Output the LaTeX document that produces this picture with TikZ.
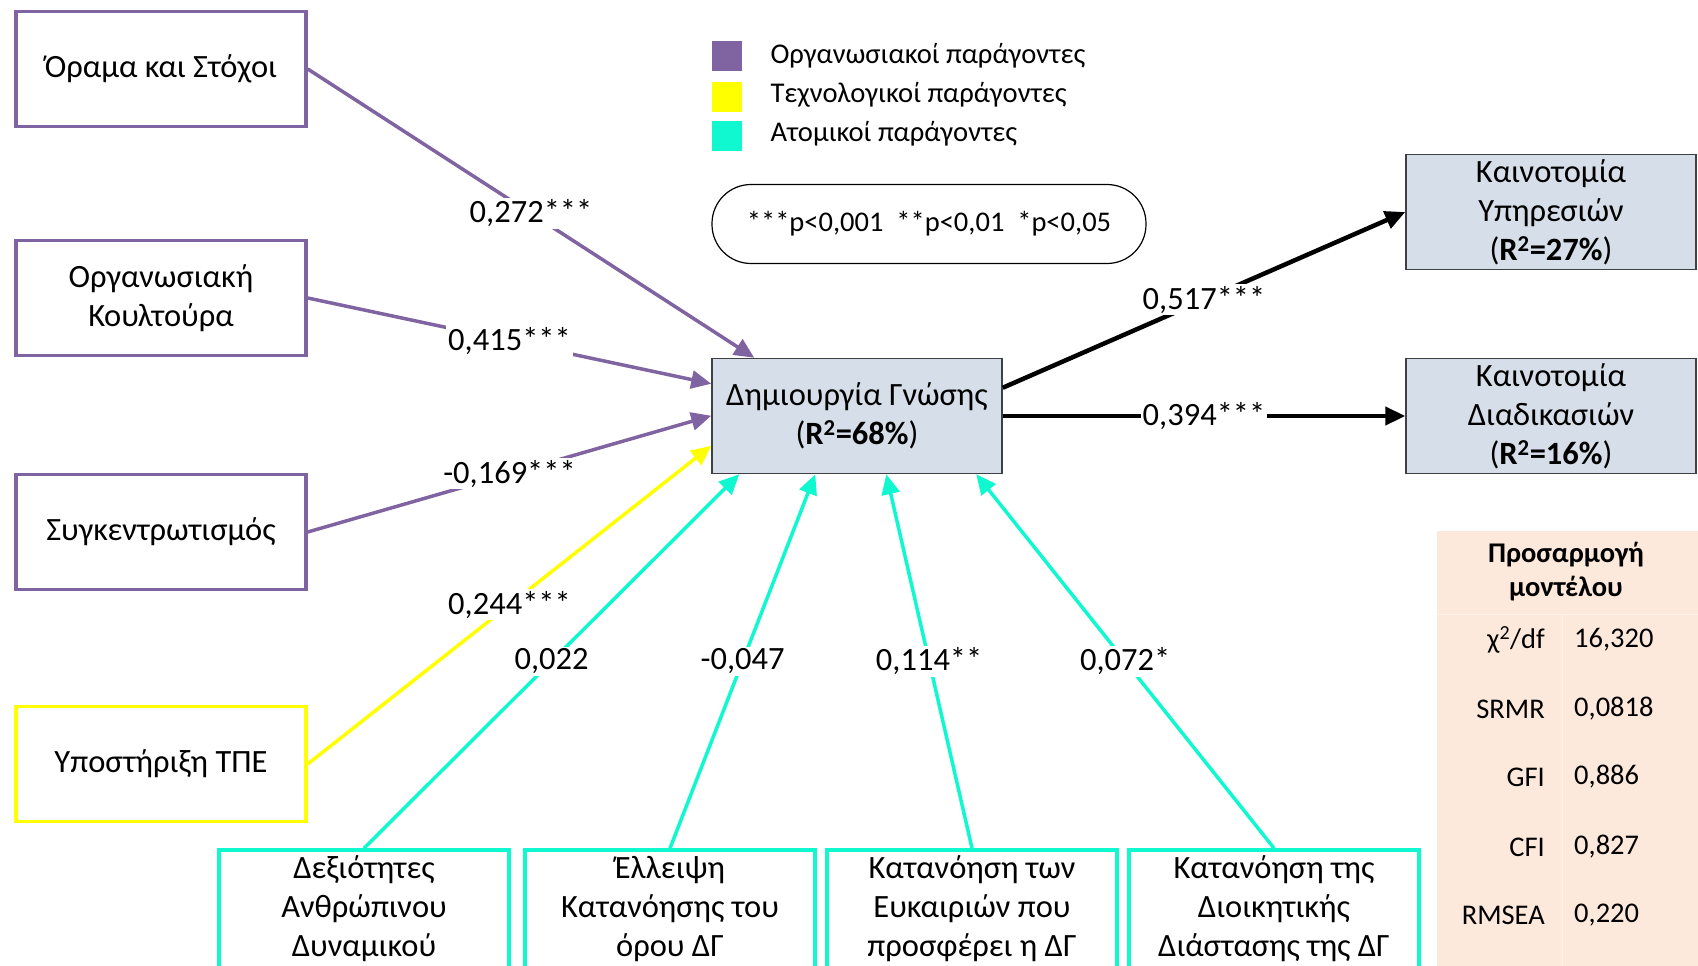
\documentclass[tikz,border=0pt]{standalone}
\usepackage{fontspec}
\setmainfont{Carlito}
\usepackage{xcolor}
\usetikzlibrary{arrows.meta,positioning}
\definecolor{orgpurple}{HTML}{8064A2}
\definecolor{techyellow}{HTML}{FFFF00}
\definecolor{indcyan}{HTML}{10F8D0}
\definecolor{kcfill}{HTML}{D6DEE9}
\definecolor{fitfill}{HTML}{FDE9DB}
\newcommand{\rsq}[1]{(\textbf{R\textsuperscript{2}=#1\%})}

\begin{document}
\begin{tikzpicture}[
    x=1pt, y=-1pt,
    font=\fontsize{32.5}{39}\selectfont,
    factor/.style={draw=#1, line width=3.5pt, minimum width=290pt, minimum height=115pt, align=center, inner sep=0},
    outcome/.style={draw=black!75, fill=kcfill, line width=1.5pt, minimum width=290pt, minimum height=115pt, align=center, inner sep=0},
    link/.style={draw=#1, line width=3.5pt, -{Triangle[length=20pt,width=18pt]}},
    coef/.style={midway, fill=white, inner sep=2pt},
    legbox/.style={fill=#1, minimum size=30pt, inner sep=0},
    legtext/.style={anchor=west, font=\fontsize{28.6}{34}\selectfont},
    fittext/.style={font=\fontsize{28.5}{34}\selectfont, inner sep=0}]
\useasboundingbox (0,0) rectangle (1698,966);

% left factors
\node (vis) [factor=orgpurple] at (161,69) {Όραμα και Στόχοι};
\node (cul) [factor=orgpurple] at (161,298) {Οργανωσιακή\\Κουλτούρα};
\node (cen) [factor=orgpurple] at (161,532) {Συγκεντρωτισμός};
\node (ict) [factor=techyellow] at (161,764) {Υποστήριξη ΤΠΕ};

% bottom factors
\node (skl) [factor=indcyan, minimum height=118pt] at (364,909) {Δεξιότητες\\Ανθρώπινου\\Δυναμικού};
\node (lck) [factor=indcyan, minimum height=118pt] at (670,909) {Έλλειψη\\Κατανόησης του\\όρου ΔΓ};
\node (opp) [factor=indcyan, minimum height=118pt] at (972,909) {Κατανόηση των\\Ευκαιριών που\\προσφέρει η ΔΓ};
\node (adm) [factor=indcyan, minimum height=118pt] at (1274,909) {Κατανόηση της\\Διοικητικής\\Διάστασης της ΔΓ};

% centre and outcomes
\node (kc) [outcome] at (857,416) {Δημιουργία Γνώσης\\\rsq{68}};
\node (srv) [outcome] at (1551,212) {Καινοτομία\\Υπηρεσιών\\\rsq{27}};
\node (prc) [outcome] at (1551,416) {Καινοτομία\\Διαδικασιών\\\rsq{16}};

% legend
\node (lg1) [legbox=orgpurple] at (727,56) {};
\node (lg2) [legbox=techyellow] at (727,97) {};
\node (lg3) [legbox=indcyan] at (727,136) {};
\node (lt1) [legtext] at (767,56) {Οργανωσιακοί παράγοντες};
\node (lt2) [legtext] at (767,95) {Τεχνολογικοί παράγοντες};
\node (lt3) [legtext] at (767,134) {Ατομικοί παράγοντες};
\node (sig) [draw, line width=1.2pt, rounded corners=39pt, minimum width=434pt, minimum height=79pt, font=\fontsize{28.5}{34}\selectfont] at (929,224) {***p<0,001\ \ **p<0,01\ \ *p<0,05};

% fit table
\path[fill=fitfill] (1437,531) rectangle (1698,970);
\path[draw=white!45!fitfill, line width=1pt] (1437,614) -- (1698,614);
\path[draw=white!45!fitfill, line width=1pt] (1562,614) -- (1562,970);
\node (fith) [fittext, font=\fontsize{28.5}{34}\selectfont\bfseries, align=center] at (1566,572) {Προσαρμογή\\μοντέλου};
\foreach \lab/\val/\yy [count=\i] in {{χ\textsuperscript{2}/df}/{16,320}/640, {SRMR}/{0,0818}/709, {GFI}/{0,886}/777, {CFI}/{0,827}/847, {RMSEA}/{0,220}/915}{
    \node (fl\i) [fittext, anchor=east] at (1545,\yy) {\lab};
    \node (fv\i) [fittext, anchor=west] at (1574,\yy) {\val};
}

% paths
\path[link=orgpurple] (vis.east) -- ([xshift=43pt]kc.north west) node[coef] {0,272***};
\path[link=orgpurple] (cul.east) -- ([yshift=-26pt]kc.north west) node[coef] {0,415***};
\path[link=orgpurple] (cen.east) -- ([yshift=-58pt]kc.north west) node[coef] {-0,169***};
\path[link=techyellow] (ict.east) -- ([yshift=-88pt]kc.north west) node[coef] {0,244***};
\path[link=indcyan] (skl.north) -- ([xshift=28pt]kc.south west) node[coef] {0,022};
\path[link=indcyan] (lck.north) -- ([xshift=104pt]kc.south west) node[coef] {-0,047};
\path[link=indcyan] (opp.north) -- ([xshift=175pt]kc.south west) node[coef] {0,114**};
\path[link=indcyan] (adm.north) -- ([xshift=265pt]kc.south west) node[coef] {0,072*};
\path[link=black, line width=4.5pt] ([yshift=-30pt]kc.north east) -- (srv.west) node[coef] {0,517***};
\path[link=black, line width=4.5pt] (kc.east) -- (prc.west) node[coef] {0,394***};

\end{tikzpicture}
\end{document}
